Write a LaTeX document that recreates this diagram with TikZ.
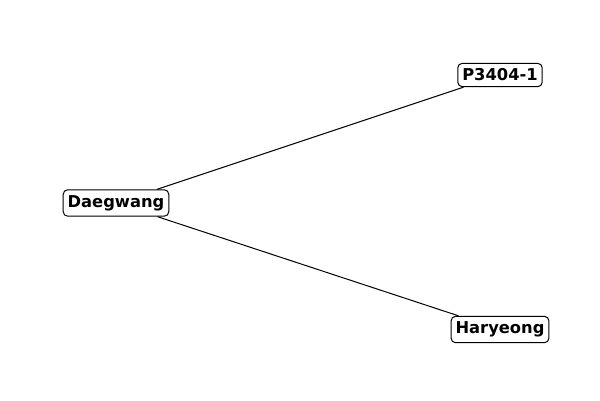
\documentclass[tikz,border=0pt]{standalone}
\usepackage{fontspec}
\setmainfont{DejaVu Sans}
\begin{document}
\begin{tikzpicture}[x=1pt,y=-1pt,
  lbl/.style={draw=black, rounded corners=4.5pt, fill=white, font=\bfseries\fontsize{16.3}{19}\selectfont, inner xsep=4.5pt, inner ysep=5.5pt, line width=1pt},
  edge/.style={draw=black, line width=1pt}]
\useasboundingbox (0,0) rectangle (600,400);
\node[lbl] (d) at (116,203) {Daegwang};
\node[lbl] (p) at (500,75) {P3404-1};
\node[lbl] (h) at (500,329.5) {Haryeong};
\draw[edge] (d) -- (p);
\draw[edge] (d) -- (h);
\end{tikzpicture}
\end{document}
